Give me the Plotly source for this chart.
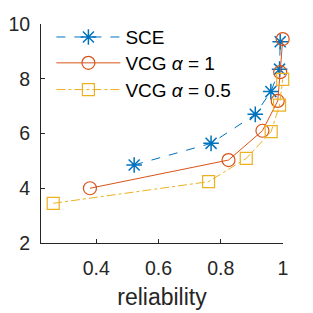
import plotly.graph_objects as go

sce_x = [0.522, 0.769, 0.911, 0.961, 0.989, 0.991]
sce_y = [4.85, 5.64, 6.70, 7.53, 8.35, 9.35]
vcg1_x = [0.380, 0.825, 0.934, 0.983, 0.991, 0.999]
vcg1_y = [4.00, 5.03, 6.10, 7.19, 8.24, 9.45]
vcg05_x = [0.262, 0.761, 0.882, 0.962, 0.989, 0.999]
vcg05_y = [3.45, 4.24, 5.09, 6.07, 7.04, 7.98]

x_ticks = [0.4, 0.6, 0.8, 1]
x_tick_labels = ["0.4", "0.6", "0.8", "1"]
y_ticks = [2, 4, 6, 8, 10]

fig = go.Figure()
fig.add_trace(go.Scatter(x=sce_x, y=sce_y, name="SCE", mode="lines+markers",
                         cliponaxis=False, legend="legend",
                         line=dict(color="#0072BD", width=1, dash="dash"),
                         marker=dict(symbol="asterisk-open", size=13,
                                     line=dict(color="#0072BD", width=1.5))))
fig.add_trace(go.Scatter(x=vcg1_x, y=vcg1_y, name="VCG <i>α</i> = 1", mode="lines+markers",
                         cliponaxis=False, legend="legend2",
                         line=dict(color="#D95319", width=1),
                         marker=dict(symbol="circle-open", size=13,
                                     line=dict(color="#D95319", width=1.2))))
fig.add_trace(go.Scatter(x=vcg05_x, y=vcg05_y, name="VCG <i>α</i> = 0.5", mode="lines+markers",
                         cliponaxis=False, legend="legend3",
                         line=dict(color="#EDB120", width=1, dash="dashdot"),
                         marker=dict(symbol="square-open", size=12,
                                     line=dict(color="#EDB120", width=1.2))))

axis_common = dict(showline=True, linecolor="#262626", linewidth=1, ticks="inside",
                   ticklen=4, tickcolor="#262626", showgrid=False, zeroline=False,
                   automargin=False,
                   tickfont=dict(size=19.5, color="#262626"))
fig.update_xaxes(range=[0.2228, 1.0], tickvals=x_ticks, ticktext=x_tick_labels,
                 ticklabelstandoff=8,
                 title=dict(text="reliability", font=dict(size=23, color="#262626"), standoff=10),
                 **axis_common)
fig.update_yaxes(range=[2, 10], tickvals=y_ticks, ticklabelstandoff=6, **axis_common)

leg_common = dict(x=0.043, xanchor="left", yanchor="middle", bgcolor="rgba(0,0,0,0)",
                  font=dict(size=19, color="#000000"), itemwidth=64)
fig.update_layout(
    width=313, height=313,
    margin=dict(l=41, r=30, t=24, b=70, autoexpand=False),
    paper_bgcolor="white", plot_bgcolor="white",
    font=dict(family="Liberation Sans, Arial, sans-serif", color="#262626"),
    showlegend=True,
    legend=dict(y=0.94, **leg_common),
    legend2=dict(y=0.8219, **leg_common),
    legend3=dict(y=0.70, **leg_common),
)
fig.write_html("out.html")
